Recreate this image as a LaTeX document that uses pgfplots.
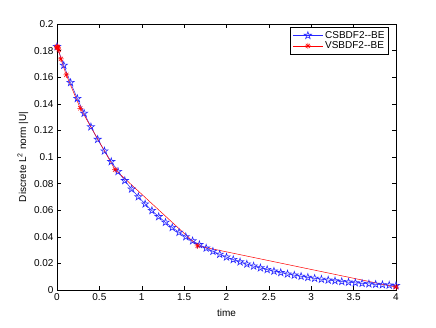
\documentclass[border=0pt]{standalone}
\usepackage{pgfplots}
\pgfplotsset{compat=1.18}
\usepackage{fontspec}
\setmainfont{Liberation Sans}
\pgfdeclareplotmark{pentagram}{%
  \pgfpathmoveto{\pgfqpointpolar{90}{\pgfplotmarksize}}%
  \pgfpathlineto{\pgfqpointpolar{126}{0.382\pgfplotmarksize}}%
  \pgfpathlineto{\pgfqpointpolar{162}{\pgfplotmarksize}}%
  \pgfpathlineto{\pgfqpointpolar{198}{0.382\pgfplotmarksize}}%
  \pgfpathlineto{\pgfqpointpolar{234}{\pgfplotmarksize}}%
  \pgfpathlineto{\pgfqpointpolar{270}{0.382\pgfplotmarksize}}%
  \pgfpathlineto{\pgfqpointpolar{306}{\pgfplotmarksize}}%
  \pgfpathlineto{\pgfqpointpolar{342}{0.382\pgfplotmarksize}}%
  \pgfpathlineto{\pgfqpointpolar{18}{\pgfplotmarksize}}%
  \pgfpathlineto{\pgfqpointpolar{54}{0.382\pgfplotmarksize}}%
  \pgfpathclose
  \pgfusepathqstroke
}
\pgfdeclareplotmark{mstar}{%
  \pgfpathmoveto{\pgfqpoint{-\pgfplotmarksize}{0pt}}\pgfpathlineto{\pgfqpoint{\pgfplotmarksize}{0pt}}%
  \pgfpathmoveto{\pgfqpoint{0pt}{-\pgfplotmarksize}}\pgfpathlineto{\pgfqpoint{0pt}{\pgfplotmarksize}}%
  \pgfpathmoveto{\pgfqpointpolar{45}{\pgfplotmarksize}}\pgfpathlineto{\pgfqpointpolar{225}{\pgfplotmarksize}}%
  \pgfpathmoveto{\pgfqpointpolar{135}{\pgfplotmarksize}}\pgfpathlineto{\pgfqpointpolar{315}{\pgfplotmarksize}}%
  \pgfusepathqstroke
}
\begin{document}
\begin{tikzpicture}
\path[use as bounding box] (-57pt,-37pt) rectangle (379pt,290pt);
\begin{axis}[
  at={(0pt,0pt)}, anchor=south west,
  scale only axis, width=339pt, height=266pt,
  xmin=0, xmax=4, ymin=0, ymax=0.2,
  xtick={0,0.5,...,4}, ytick={0,0.02,...,0.2},
  font=\fontsize{10}{12}\selectfont,
  /pgf/number format/assume math mode=true,
  yticklabel style={/pgf/number format/fixed,/pgf/number format/precision=2},
  xticklabel style={/pgf/number format/fixed},
  scaled y ticks=false,
  tick style={black, line width=0.5pt},
  major tick length=4pt,
  axis line style={line width=0.6pt},
  xlabel={time}, ylabel={Discrete L\textsuperscript{2} norm |U|},
  xlabel style={yshift=-2pt},
  ylabel style={yshift=-1pt},
  legend style={at={(0.979,0.989)}, anchor=north east, draw=black, line width=0.6pt,
    font=\fontsize{10}{12}\selectfont, row sep=-2pt, inner sep=2pt},
  legend cell align=left,
  legend image code/.code={\draw[#1] (0pt,0pt) -- (15pt,0pt) plot coordinates {(15pt,0pt)} -- (30pt,0pt);},
]
\addplot[color=blue!85!white, line width=0.5pt, mark=pentagram, mark size=3.8pt, mark options={line width=0.6pt}] coordinates {
(0,0.18300)(0.08,0.16893)(0.16,0.15594)(0.24,0.14395)(0.32,0.13288)(0.40,0.12267)
(0.48,0.11324)(0.56,0.10453)(0.64,0.09649)(0.72,0.08907)(0.80,0.08223)(0.88,0.07590)
(0.96,0.07007)(1.04,0.06468)(1.12,0.05971)(1.20,0.05512)(1.28,0.05088)(1.36,0.04697)
(1.44,0.04336)(1.52,0.04002)(1.60,0.03695)(1.68,0.03411)(1.76,0.03148)(1.84,0.02906)
(1.92,0.02683)(2.00,0.02477)(2.08,0.02286)(2.16,0.02111)(2.24,0.01948)(2.32,0.01798)
(2.40,0.01660)(2.48,0.01533)(2.56,0.01415)(2.64,0.01306)(2.72,0.01205)(2.80,0.01113)
(2.88,0.01027)(2.96,0.00948)(3.04,0.00875)(3.12,0.00808)(3.20,0.00746)(3.28,0.00688)
(3.36,0.00635)(3.44,0.00587)(3.52,0.00541)(3.60,0.00500)(3.68,0.00461)(3.76,0.00426)
(3.84,0.00393)(3.92,0.00363)(4.00,0.00335)
};
\addlegendentry{CSBDF2-{}-BE}
\addplot[color=red, line width=0.5pt, mark=mstar, mark size=3pt, mark options={line width=0.5pt}] coordinates {
(0,0.1830)(0.002,0.1828)(0.005,0.1825)(0.01,0.1820)(0.02,0.1805)(0.045,0.1737)
(0.11,0.1617)(0.275,0.1366)(0.685,0.0905)(1.66,0.0332)(4,0.0022)
};
\addlegendentry{VSBDF2-{}-BE}
\end{axis}
\end{tikzpicture}
\end{document}
